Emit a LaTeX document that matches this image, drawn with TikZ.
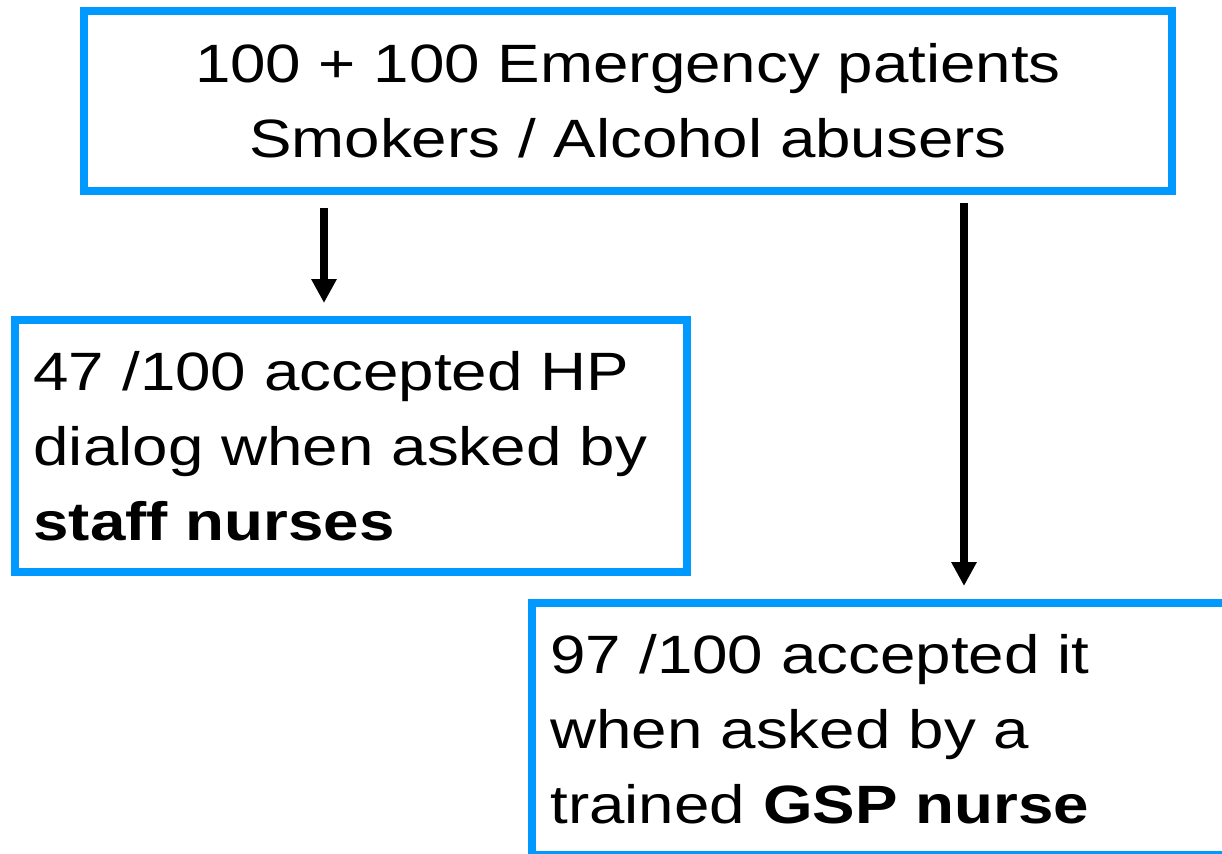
\documentclass[tikz,border=0pt]{standalone}
\usepackage{fontspec}
\setmainfont{Liberation Sans}[FakeStretch=1.18]
\usetikzlibrary{arrows.meta}

\definecolor{boxblue}{HTML}{0099FF}

\begin{document}
\begin{tikzpicture}[
    box/.style={draw=boxblue, line width=5.7pt, outer sep=0pt, inner ysep=0pt,
      font=\fontsize{38.4}{53.3}\selectfont},
    flow/.style={-{Triangle[length=0.6cm,width=0.6cm]}, line width=5.3pt}
  ]
  \clip (0,0) rectangle (30.55,-21.325);

  % Patients at the top
  \node[box, anchor=north west, minimum width=27.2cm, minimum height=4.5cm, align=center]
    (patients) at (2.1,-0.275) {100 + 100 Emergency patients\\Smokers / Alcohol abusers};

  % The two outcomes
  \node[box, anchor=north west, inner xsep=0.4625cm, text width=15.875cm, minimum height=6.3cm, align=left]
    (staff) at (0.375,-8.0) {47 /100 accepted HP\\dialog when asked by\\\textbf{staff nurses}};
  \node[box, anchor=north west, inner xsep=0.4625cm, text width=16.425cm, minimum height=6.3cm, align=left]
    (gsp) at (13.3,-15.075) {97 /100 accepted it\\when asked by a\\trained \textbf{GSP nurse}};

  % Arrows
  \coordinate (leftx) at (8.1,0);
  \coordinate (rightx) at (24.1,0);
  \draw[flow, shorten <=0.425cm, shorten >=0.425cm] (patients.south -| leftx) -- (staff.north -| leftx);
  \draw[flow, shorten <=0.3cm, shorten >=0.425cm] (patients.south -| rightx) -- (gsp.north -| rightx);
\end{tikzpicture}
\end{document}
